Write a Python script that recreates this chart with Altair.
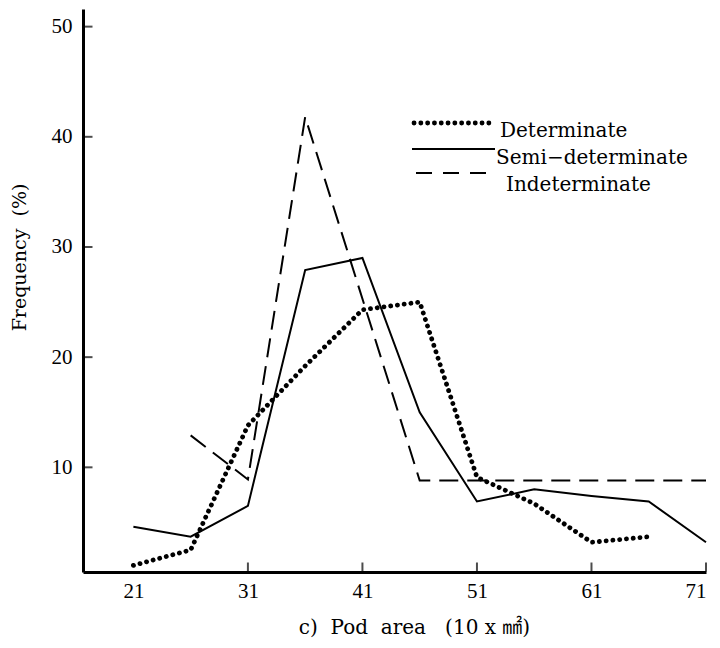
import altair as alt
import pandas as pd

# ---- data ----
det_x = [21, 26, 31, 36, 41, 46, 51, 56, 61, 66]
det_y = [1.1, 2.5, 13.8, 19.2, 24.3, 25.0, 9.1, 6.7, 3.2, 3.7]

semi_x = [21, 26, 31, 36, 41, 46, 51, 56, 61, 66, 71]
semi_y = [4.6, 3.7, 6.5, 27.9, 29.0, 15.0, 6.9, 8.0, 7.4, 6.9, 3.2]

ind_x = [26, 31, 36, 46, 51, 56, 61, 66, 71]
ind_y = [12.9, 8.9, 41.8, 8.8, 8.8, 8.8, 8.8, 8.8, 8.8]

x_tick_labels = [21, 31, 41, 51, 61, 71]
x_inner_ticks = [31, 41, 51, 61, 71]
y_tick_labels = [10, 20, 30, 40, 50]

series_names = ["Determinate", "Semi\u2212determinate", "Indeterminate"]

NB = "\u00a0"
x_title = f"c){NB}{NB}Pod{NB}{NB}area{NB}{NB}{NB}(10{NB}x{NB}\u339f)"
y_title = f"Frequency{NB}{NB}(%)"

W, H = 623, 563
SERIF = "DejaVu Serif, Noto Sans CJK JP"
NUMF = "Liberation Serif"

xs = alt.Scale(domain=[16.6, 71], nice=False, zero=False)
ys = alt.Scale(domain=[0.5, 51.6], nice=False, zero=False)

ax_x = alt.Axis(values=x_tick_labels, ticks=False, grid=False, domainColor="black",
                domainWidth=3, labelFont=NUMF, labelFontSize=21, labelColor="black",
                labelPadding=8, title=x_title, titleFont=SERIF, titleFontSize=20,
                titleFontWeight="normal", titleColor="black", titleX=331, titleY=61,
                titleAlign="center", titleBaseline="alphabetic")
ax_y = alt.Axis(values=y_tick_labels, ticks=False, grid=False, domainColor="black",
                domainWidth=3, labelFont=NUMF, labelFontSize=21, labelColor="black",
                labelPadding=11, title=y_title, titleFont=SERIF, titleFontSize=19,
                titleFontWeight="normal", titleColor="black", titleX=-64, titleY=248,
                titleAngle=270, titleAlign="center", titleBaseline="middle")


def X():
    return alt.X("x:Q", scale=xs, axis=ax_x)


def Y():
    return alt.Y("y:Q", scale=ys, axis=ax_y)


det = pd.DataFrame({"x": det_x, "y": det_y})
semi = pd.DataFrame({"x": semi_x, "y": semi_y})
ind = pd.DataFrame({"x": ind_x, "y": ind_y})

det_line = alt.Chart(det).mark_line(color="black", strokeWidth=4.8, strokeDash=[0.1, 6.7],
                                    strokeCap="round").encode(x=X(), y=Y())
semi_line = alt.Chart(semi).mark_line(color="black", strokeWidth=2).encode(x=X(), y=Y())
ind_line = alt.Chart(ind).mark_line(color="black", strokeWidth=2,
                                    strokeDash=[19, 9]).encode(x=X(), y=Y())

xt = alt.Chart(pd.DataFrame({"x": x_inner_ticks})).mark_tick(
    orient="vertical", size=9, thickness=2, color="black").encode(x=X(), y=alt.value(H - 5))
yt = alt.Chart(pd.DataFrame({"y": y_tick_labels})).mark_tick(
    orient="horizontal", size=9, thickness=2, color="black").encode(y=Y(), x=alt.value(5))

# ---- legend ----
base_leg = alt.Chart(pd.DataFrame({"k": [0]}))
leg_det = base_leg.mark_rule(color="black", strokeWidth=4.8, strokeDash=[0.1, 6.7],
                             strokeCap="round").encode(
    x=alt.value(331), x2=alt.value(412), y=alt.value(114))
leg_semi = base_leg.mark_rule(color="black", strokeWidth=2).encode(
    x=alt.value(329), x2=alt.value(412), y=alt.value(140))
leg_ind = base_leg.mark_rule(color="black", strokeWidth=2, strokeDash=[16, 11]).encode(
    x=alt.value(333), x2=alt.value(412), y=alt.value(164))

leg_text = [
    base_leg.transform_calculate(t=f"'{series_names[0]}'").mark_text(
        font=SERIF, fontSize=20, align="left", baseline="alphabetic", color="black").encode(
        text="t:N", x=alt.value(417), y=alt.value(128)),
    base_leg.transform_calculate(t=f"'{series_names[1]}'").mark_text(
        font=SERIF, fontSize=20, align="left", baseline="alphabetic", color="black").encode(
        text="t:N", x=alt.value(413), y=alt.value(155)),
    base_leg.transform_calculate(t=f"'{series_names[2]}'").mark_text(
        font=SERIF, fontSize=20, align="left", baseline="alphabetic", color="black").encode(
        text="t:N", x=alt.value(423), y=alt.value(182)),
]

chart = alt.layer(det_line, semi_line, ind_line, xt, yt, leg_det, leg_semi, leg_ind,
                  *leg_text).properties(
    width=W, height=H,
    autosize=alt.AutoSizeParams(type="none"),
    padding={"left": 75, "top": 1, "right": 6, "bottom": 68},
    background="white",
).configure_view(stroke=None)

chart.save("out.html", embed_options={"renderer": "svg", "actions": False})
